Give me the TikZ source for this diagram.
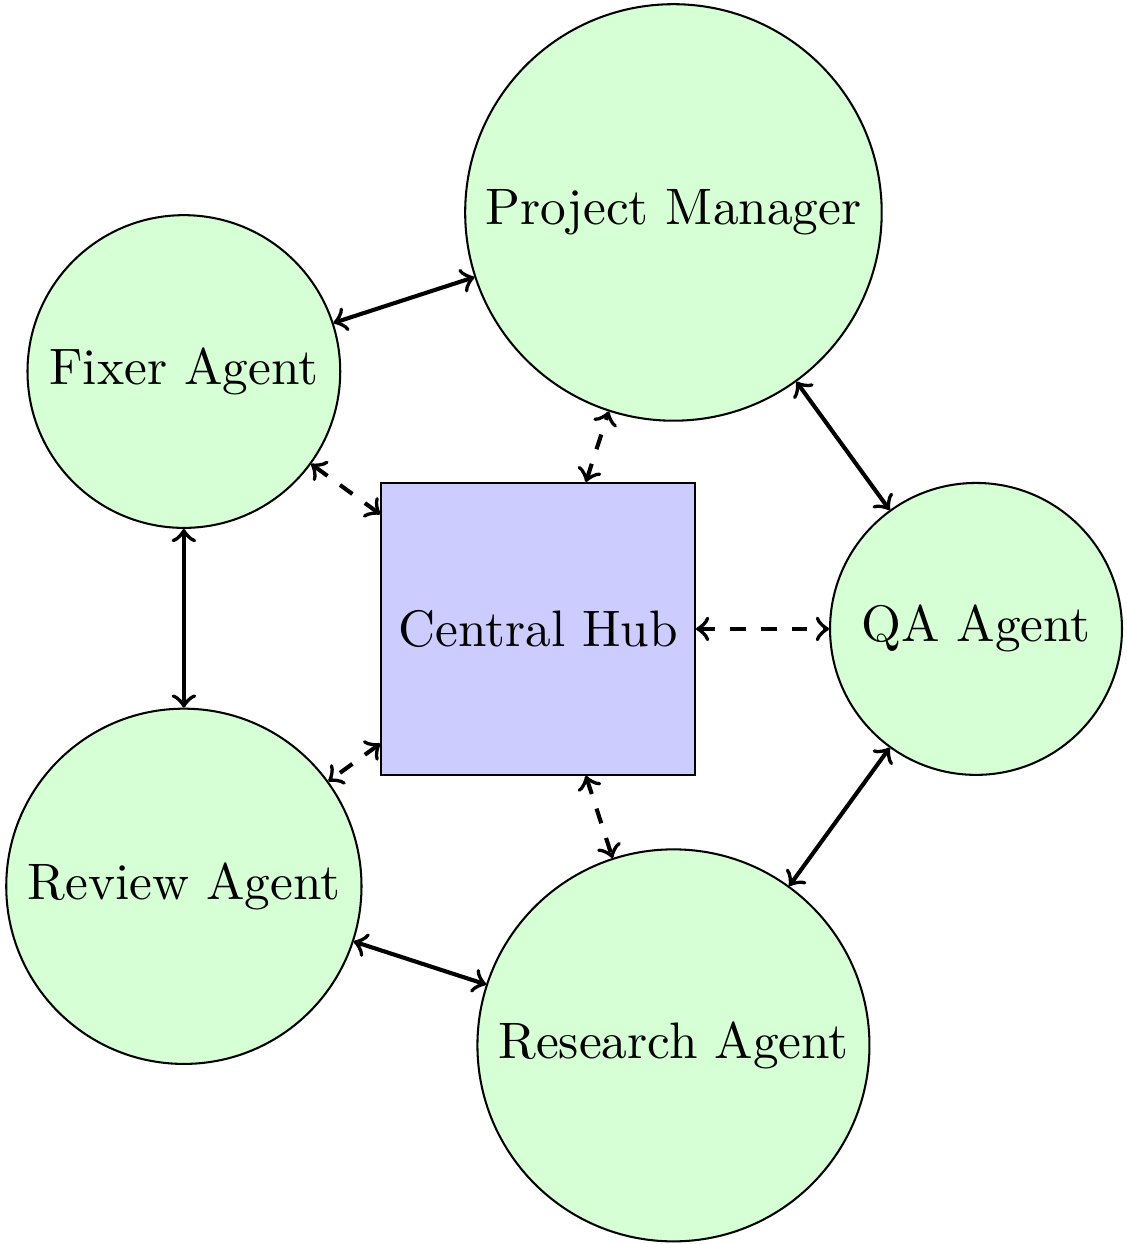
\documentclass[tikz,border=0pt]{standalone}
\begin{document}
\begin{tikzpicture}[<->,thick,
agent/.style={circle,draw,thin,fill=green!16,minimum size=2cm},
hubbox/.style={rectangle,draw,thin,fill=blue!20,minimum size=2cm}]
\useasboundingbox (-104.9pt,-119.9pt) rectangle (114.6pt,122.6pt);
\node[hubbox] (hub) {Central Hub};
\node[agent] (pm) at (72:3cm) {Project Manager};
\node[agent] (fixer) at (144:3cm) {Fixer Agent};
\node[agent] (review) at (216:3cm) {Review Agent};
\node[agent] (research) at (288:3cm) {Research Agent};
\node[agent] (qa) at (0:3cm) {QA Agent};
% ring
\draw (fixer) -- (pm);
\draw (pm) -- (qa);
\draw (qa) -- (research);
\draw (research) -- (review);
\draw (review) -- (fixer);
% hub links
\foreach \n in {pm,fixer,review,research,qa}
  \draw[dashed] (hub) -- (\n);
\end{tikzpicture}
\end{document}
